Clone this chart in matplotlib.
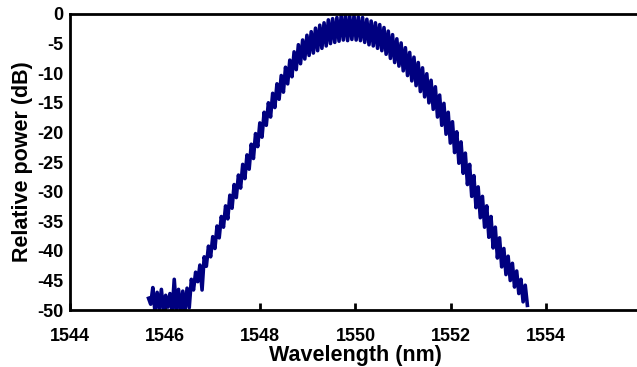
"""
Relative power spectrum vs wavelength
"""
import numpy as np
import matplotlib
matplotlib.use('Agg')
import matplotlib.pyplot as plt

plt.rcParams['font.family'] = ['Liberation Sans', 'DejaVu Sans']
plt.rcParams['font.weight'] = 'bold'
plt.rcParams['axes.unicode_minus'] = False

# spectrum samples, evenly spaced from 1545.65 nm to 1553.615 nm
wl_start, wl_stop = 1545.65, 1553.615
power_db = [
    -48.0, -49.0, -46.2, -50.3, -47.0, -49.8, -46.5, -50.4, -47.5, -49.5,
    -47.2, -50.5, -44.8, -49.8, -46.5, -50.5, -46.8, -50.2, -46.3, -49.6,
    -44.8, -46.6, -43.6, -45.2, -42.4, -46.6, -41.0, -42.6, -39.2, -41.0,
    -37.6, -39.6, -35.8, -37.8, -34.2, -36.0, -32.4, -34.6, -30.6, -32.8,
    -28.8, -31.0, -27.2, -29.4, -25.4, -27.8, -23.8, -26.2, -22.0, -24.4,
    -20.2, -22.4, -18.4, -20.8, -16.6, -18.8, -15.0, -17.4, -13.4, -15.8,
    -11.8, -14.4, -10.4, -13.2, -9.0, -11.8, -7.8, -10.6, -6.4, -9.4,
    -5.2, -8.4, -4.4, -7.6, -3.6, -7.0, -3.0, -6.6, -2.4, -6.2,
    -1.9, -5.8, -1.5, -5.4, -1.0, -5.0, -0.8, -4.8, -0.6, -4.6,
    -0.3, -4.4, -0.2, -4.5, -0.4, -4.3, -0.3, -4.4, -0.5, -4.5,
    -0.6, -4.8, -0.9, -5.2, -1.2, -5.4, -1.5, -5.8, -1.8, -6.2,
    -2.3, -6.8, -2.9, -7.5, -3.5, -8.2, -4.2, -8.8, -4.9, -9.6,
    -5.7, -10.4, -6.5, -11.3, -7.3, -12.1, -8.2, -13.1, -9.1, -14.0,
    -10.1, -15.0, -11.2, -16.1, -12.3, -17.4, -13.7, -18.8, -15.1, -20.3,
    -16.6, -21.8, -18.2, -23.4, -19.9, -25.2, -21.6, -26.9, -23.5, -28.8,
    -25.4, -30.8, -27.3, -32.7, -29.2, -34.4, -30.8, -36.0, -32.4, -37.7,
    -34.2, -39.5, -36.0, -41.2, -37.8, -42.7, -39.6, -44.0, -40.9, -45.0,
    -42.1, -46.1, -43.4, -47.2, -44.8, -48.6, -45.8, -49.2,
]
wavelength = np.linspace(wl_start, wl_stop, len(power_db))

x_ticks = [1544, 1546, 1548, 1550, 1552, 1554]
y_ticks = [0, -5, -10, -15, -20, -25, -30, -35, -40, -45, -50]

fig = plt.figure(figsize=(6.37, 3.67), dpi=100)
ax = fig.add_axes([0.110, 0.155, 0.896, 0.807])

ax.plot(wavelength, power_db, color='#000080', linewidth=2.6)

ax.set_xlim(1544, 1556)
ax.set_ylim(-50, 0)
ax.set_xticks(x_ticks)
ax.set_yticks(y_ticks)
ax.tick_params(axis='x', direction='in', length=5, width=2, pad=13,
               labelsize=13)
ax.tick_params(axis='y', length=0, pad=5, labelsize=13)
for lab in ax.get_xticklabels() + ax.get_yticklabels():
    lab.set_fontweight('bold')

for s in ax.spines.values():
    s.set_linewidth(2)
ax.spines['right'].set_visible(False)

ax.set_xlabel('Wavelength (nm)', fontsize=15.5, fontweight='bold', labelpad=0)
ax.set_ylabel('Relative power (dB)', fontsize=15.5, fontweight='bold',
              labelpad=3)

fig.savefig('out.png', dpi=100)
